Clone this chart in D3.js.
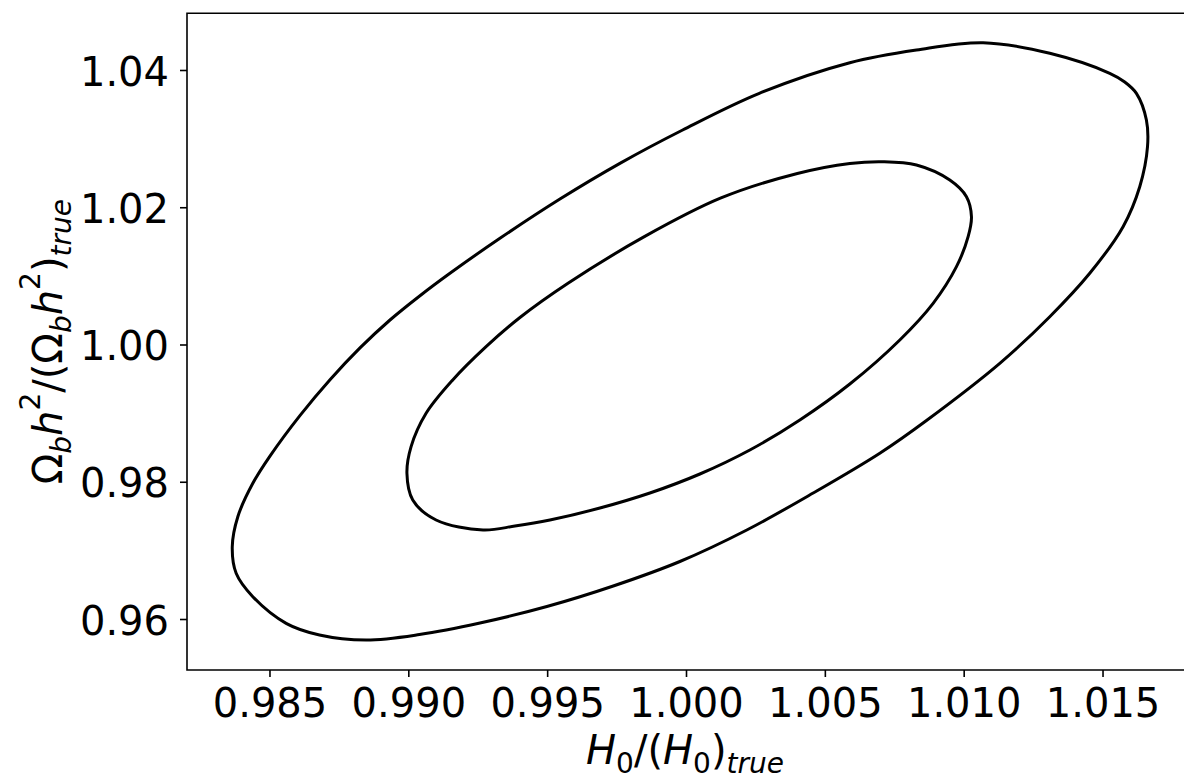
<!DOCTYPE html>
<html>
<head>
<meta charset="utf-8">
<script src="https://cdn.jsdelivr.net/npm/d3@7"></script>
<style>
  body { margin: 0; background: #fff; }
  svg { display: block; font-family: 'DejaVu Sans', sans-serif; }
</style>
</head>
<body>
<div id="chart"></div>
<script>
// Tick values
const xTicks = [0.985, 0.990, 0.995, 1.000, 1.005, 1.010, 1.015];
const yTicks = [0.96, 0.98, 1.00, 1.02, 1.04];

// Outer (2 sigma) contour
const outerH0 = [0.98366, 0.98386, 0.98440, 0.98503, 0.98611, 0.98718, 0.98826, 0.98934, 0.99042, 0.99150,
    0.99330, 0.99546, 0.99762, 0.99988, 1.00264, 1.00590, 1.00830, 1.01070, 1.01310, 1.01526,
    1.01580, 1.01622, 1.01658, 1.01662, 1.01634, 1.01574, 1.01454, 1.01310, 1.01130, 1.00866,
    1.00698, 1.00458, 1.00219, 0.99978, 0.99738, 0.99499, 0.99258, 0.99040, 0.98848, 0.98680,
    0.98560, 0.98440, 0.98380];
const outerOmega = [0.97054, 0.97491, 0.97977, 0.98381, 0.98971, 0.99487, 0.99950, 1.00357, 1.00711, 1.01038,
    1.01548, 1.02120, 1.02640, 1.03126, 1.03660, 1.04106, 1.04291, 1.04398, 1.04243, 1.03952,
    1.03825, 1.03660, 1.03271, 1.02882, 1.02299, 1.01717, 1.01038, 1.00405, 0.99726, 0.98893,
    0.98416, 0.97836, 0.97297, 0.96838, 0.96481, 0.96182, 0.95942, 0.95774, 0.95694, 0.95767,
    0.95937, 0.96325, 0.96666];

// Inner (1 sigma) contour
const innerH0 = [0.98995, 0.99010, 0.99064, 0.99160, 0.99280, 0.99402, 0.99575, 0.99850, 1.00126, 1.00401,
    1.00590, 1.00709, 1.00830, 1.00950, 1.01010, 1.01028, 1.01016, 1.00974, 1.00890, 1.00770,
    1.00590, 1.00410, 1.00230, 1.00050, 0.99870, 0.99690, 0.99510, 0.99384, 0.99269, 0.99100,
    0.99016];
const innerOmega = [0.98123, 0.98511, 0.98997, 0.99483, 0.99968, 1.00393, 1.00892, 1.01571, 1.02135, 1.02492,
    1.02638, 1.02664, 1.02616, 1.02397, 1.02154, 1.01862, 1.01571, 1.01134, 1.00600, 1.00066,
    0.99424, 0.98900, 0.98463, 0.98113, 0.97836, 0.97617, 0.97443, 0.97355, 0.97297, 0.97443,
    0.97734];

const width = 1184;
const height = 776;
const plotLeft = 187, plotRight = 1185, plotTop = 13.3, plotBottom = 670;

const svg = d3.select('#chart')
    .append('svg')
    .attr('width', width)
    .attr('height', height);

const x = d3.scaleLinear().domain([0.98203, 1.01797]).range([plotLeft, plotRight]);
const y = d3.scaleLinear().domain([0.95257, 1.04826]).range([plotBottom, plotTop]);

// contours
const line = d3.line()
    .x(d => x(d[0]))
    .y(d => y(d[1]))
    .curve(d3.curveCatmullRomClosed.alpha(0.5));

const contours = [
    d3.zip(outerH0, outerOmega),
    d3.zip(innerH0, innerOmega)
];

svg.append('g')
    .selectAll('path')
    .data(contours)
    .enter()
    .append('path')
    .attr('d', line)
    .attr('fill', 'none')
    .attr('stroke', '#000')
    .attr('stroke-width', 3)
    .attr('stroke-linejoin', 'round');

// axes
const xAxis = svg.append('g')
    .attr('transform', `translate(0,${plotBottom})`)
    .call(d3.axisBottom(x).tickValues(xTicks).tickFormat(d3.format('.3f')).tickSize(7).tickSizeOuter(0).tickPadding(11.6));

const yAxis = svg.append('g')
    .attr('transform', `translate(${plotLeft},0)`)
    .call(d3.axisLeft(y).tickValues(yTicks).tickFormat(d3.format('.2f')).tickSize(7).tickSizeOuter(0).tickPadding(11));

[xAxis, yAxis].forEach(g => {
    g.select('.domain').remove();
    g.selectAll('.tick line').attr('stroke', '#000').attr('stroke-width', 1.6);
    g.selectAll('.tick text')
        .attr('fill', '#000')
        .style('font-size', '40px')
        .style('font-family', "'DejaVu Sans', sans-serif");
});
yAxis.selectAll('.tick text').attr('dy', '0.38em');

// spines (right one sits just off the picture)
svg.append('path')
    .attr('d', `M${plotRight},${plotTop}H${plotLeft}V${plotBottom}H${plotRight}`)
    .attr('fill', 'none')
    .attr('stroke', '#000')
    .attr('stroke-width', 1.6);

// mathtext-like labels
function mathLabel(sel, parts) {
    let shift = 0;
    parts.forEach(p => {
        const target = p.sub ? 8.5 : (p.sup ? -22 : 0);
        sel.append('tspan')
            .attr('dy', target - shift)
            .style('font-style', p.it ? 'italic' : 'normal')
            .style('font-size', (p.sub || p.sup) ? '28px' : '40px')
            .text(p.t);
        shift = target;
    });
}

const xLabel = svg.append('text')
    .attr('x', (plotLeft + plotRight) / 2 - 1)
    .attr('y', 764)
    .attr('text-anchor', 'middle')
    .style('font-size', '40px')
    .attr('fill', '#000');
mathLabel(xLabel, [
    {t: 'H', it: true}, {t: '0', sub: true}, {t: '/('}, {t: 'H', it: true}, {t: '0', sub: true},
    {t: ')'}, {t: 'true', it: true, sub: true}
]);

const yLabel = svg.append('text')
    .attr('transform', `translate(62,${(plotTop + plotBottom) / 2}) rotate(-90)`)
    .attr('text-anchor', 'middle')
    .style('font-size', '40px')
    .attr('fill', '#000');
mathLabel(yLabel, [
    {t: 'Ω'}, {t: 'b', it: true, sub: true}, {t: 'h', it: true}, {t: '2', sup: true},
    {t: '/(Ω'}, {t: 'b', it: true, sub: true}, {t: 'h', it: true}, {t: '2', sup: true},
    {t: ')'}, {t: 'true', it: true, sub: true}
]);
</script>
</body>
</html>
